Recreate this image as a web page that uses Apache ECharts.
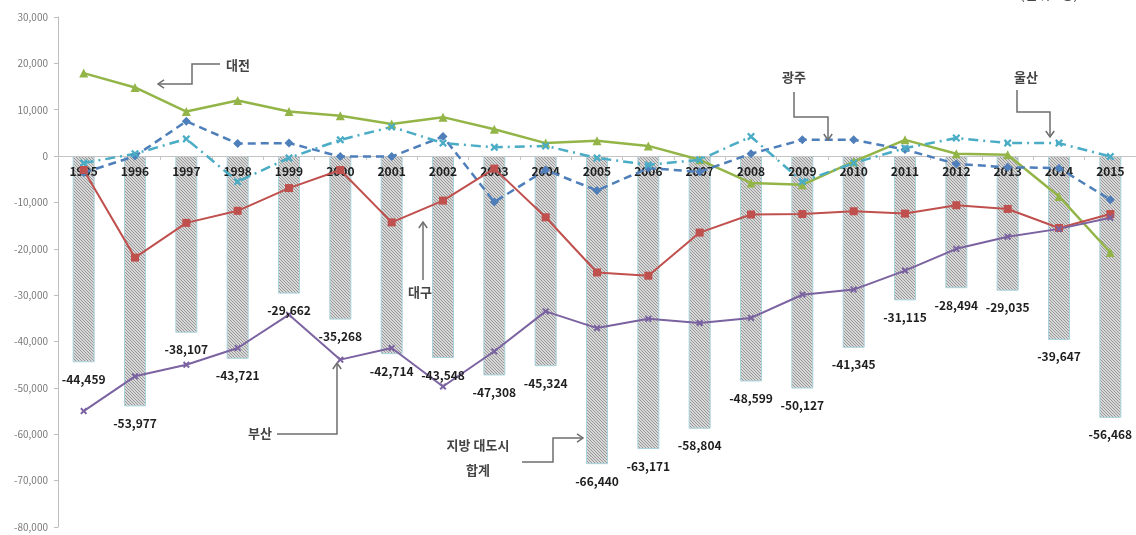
<!DOCTYPE html>
<html>
<head>
<meta charset="utf-8">
<script src="https://cdn.jsdelivr.net/npm/echarts@6/dist/echarts.min.js"></script>
<style>
  html, body { margin: 0; padding: 0; background: #fff; }
  #chart { width: 1136px; height: 535px; }
</style>
</head>
<body>
<div id="chart"></div>
<script>
// 연도별 지방 대도시 순이동 (단위: 명)
const years = ['1995','1996','1997','1998','1999','2000','2001','2002','2003','2004','2005',
               '2006','2007','2008','2009','2010','2011','2012','2013','2014','2015'];

// 지방 대도시 합계 (막대)
const metroTotal = [-44459, -53977, -38107, -43721, -29662, -35268, -42714, -43548, -47308, -45324,
                    -66440, -63171, -58804, -48599, -50127, -41345, -31115, -28494, -29035, -39647, -56468];

// 도시별 (선)
const daejeon = [17900, 14800, 9600, 12000, 9600, 8700, 6900, 8400, 5800, 2800, 3300,
                 2200, -800, -5800, -6200, -1200, 3500, 500, 300, -8700, -20800];
const gwangju = [-3600, 0, 7500, 2700, 2800, -100, -100, 4200, -9900, -3000, -7400,
                 -2600, -3400, 500, 3500, 3500, 1400, -1700, -2400, -2600, -9400];
const ulsan   = [-1500, 500, 3700, -5500, -400, 3500, 6300, 2800, 1900, 2200, -400,
                 -1900, -800, 4200, -5500, -1500, 1700, 3900, 2800, 2800, -100];
const daegu   = [-3000, -21900, -14400, -11800, -6900, -3000, -14300, -9600, -2700, -13200, -25100,
                 -25800, -16500, -12600, -12500, -11900, -12400, -10600, -11400, -15500, -12500];
const busan   = [-55000, -47500, -45000, -41400, -34200, -43900, -41400, -49700, -42100, -33500, -37100,
                 -35100, -36000, -34900, -29900, -28800, -24700, -20000, -17400, -15700, -13300];

const yTicks = { min: -80000, max: 30000, step: 10000 };

const FONT = '"Noto Sans CJK KR", "Noto Sans", sans-serif';
const fmt = v => Number(v).toLocaleString('en-US');

const W = 1136, H = 535;
const GRID = { left: 58, right: 0, top: 17, bottom: 8 };
// 연도 축을 0 위치에 두기 위한 거리
const zeroFromTop = (H - GRID.top - GRID.bottom) * yTicks.max / (yTicks.max - yTicks.min);

// 빗금 무늬 막대 채우기
function hatchPattern() {
  const c = document.createElement('canvas');
  c.width = 3; c.height = 3;
  const g = c.getContext('2d');
  g.fillStyle = '#d8d8d8';
  g.fillRect(0, 0, 3, 3);
  g.fillStyle = '#979797';
  for (let i = 0; i < 3; i++) g.fillRect(i, i, 1, 1);
  return c;
}

const crossPath = 'path://M2,0L5,3L8,0L10,2L7,5L10,8L8,10L5,7L2,10L0,8L3,5L0,2Z';

const chart = echarts.init(document.getElementById('chart'));

// 화살표 설명선
const annoColor = '#6e6e6e';
function polyline(points, arrowDir) {
  const els = [{
    type: 'polyline', silent: true, z: 20,
    shape: { points: points },
    style: { stroke: annoColor, lineWidth: 1.5, fill: null }
  }];
  if (arrowDir) {
    const [tx, ty] = points[points.length - 1];
    const s = 6;
    let head;
    if (arrowDir === 'left')  head = [[tx + s, ty - s * 0.7], [tx, ty], [tx + s, ty + s * 0.7]];
    if (arrowDir === 'right') head = [[tx - s, ty - s * 0.7], [tx, ty], [tx - s, ty + s * 0.7]];
    if (arrowDir === 'up')    head = [[tx - s * 0.7, ty + s], [tx, ty], [tx + s * 0.7, ty + s]];
    if (arrowDir === 'down')  head = [[tx - s * 0.7, ty - s], [tx, ty], [tx + s * 0.7, ty - s]];
    els.push({
      type: 'polyline', silent: true, z: 20,
      shape: { points: head },
      style: { stroke: annoColor, lineWidth: 1.5, fill: null }
    });
  }
  return els;
}
function note(text, x, y, align) {
  return {
    type: 'text', silent: true, z: 20, x: x, y: y,
    style: {
      text: text, fill: '#444', font: 'bold 13px ' + FONT,
      align: align || 'center', verticalAlign: 'middle', lineHeight: 25
    }
  };
}

const graphics = [].concat(
  note('대전', 238, 65),
  polyline([[220, 64], [192, 64], [192, 84], [158, 84]], 'left'),
  note('광주', 794, 77),
  polyline([[794, 92], [794, 117], [828, 117], [828, 140]], 'down'),
  note('울산', 1026, 77),
  polyline([[1017, 90], [1017, 112], [1050, 112], [1050, 137]], 'down'),
  note('대구', 420, 292),
  polyline([[423, 280], [423, 222]], 'up'),
  note('부산', 260, 433),
  polyline([[277, 434], [337, 434], [337, 363]], 'up'),
  note('지방 대도시\n합계', 478, 458),
  polyline([[522, 462], [553, 462], [553, 438], [583, 438]], 'right'),
  [{
    type: 'text', silent: true, z: 20, x: 1020, y: 1,
    style: { text: '(단위 : 명)', fill: '#444', font: '14px ' + FONT, align: 'left', verticalAlign: 'bottom' }
  }]
);

const lineBase = { type: 'line', z: 4, symbolSize: 8 };

chart.setOption({
  animation: false,
  backgroundColor: '#ffffff',
  textStyle: { fontFamily: FONT },
  grid: Object.assign({ containLabel: false, outerBoundsMode: 'none' }, GRID),
  xAxis: {
    type: 'category',
    data: years,
    position: 'top',
    offset: -zeroFromTop,
    z: 3,
    axisLine: { onZero: false, lineStyle: { color: '#c4c4c4', width: 1 } },
    axisTick: { show: true, inside: true, length: 4, lineStyle: { color: '#c4c4c4' } },
    axisLabel: { inside: true, fontWeight: 'bold', fontSize: 12, color: '#1e1e1e', margin: 9, fontFamily: FONT },
    splitLine: { show: false }
  },
  yAxis: {
    type: 'value',
    min: yTicks.min, max: yTicks.max, interval: yTicks.step,
    axisLine: { show: true, lineStyle: { color: '#bdbdbd' } },
    axisTick: { show: true, length: 4, lineStyle: { color: '#bdbdbd' } },
    axisLabel: { formatter: fmt, color: '#7a7a7a', fontSize: 10, margin: 10, fontFamily: FONT },
    splitLine: { show: false }
  },
  series: [
    {
      name: '지방 대도시 합계', type: 'bar', data: metroTotal, barWidth: 22, z: 2,
      itemStyle: {
        color: { image: hatchPattern(), repeat: 'repeat' },
        borderColor: '#a9d4dc', borderWidth: 1
      }
    },
    Object.assign({}, lineBase, {
      name: '대전', data: daejeon, symbol: 'triangle', symbolSize: 9,
      lineStyle: { color: '#93b548', width: 2.5 },
      itemStyle: { color: '#93b548' }
    }),
    Object.assign({}, lineBase, {
      name: '광주', data: gwangju, symbol: 'diamond', symbolSize: 9,
      lineStyle: { color: '#4f7fba', width: 2.5, type: [8, 5] },
      itemStyle: { color: '#4f7fba' }
    }),
    Object.assign({}, lineBase, {
      name: '울산', data: ulsan, symbol: crossPath, symbolSize: 8,
      lineStyle: { color: '#4aacc5', width: 2.5, type: [10, 5, 2, 5] },
      itemStyle: { color: '#4aacc5' }
    }),
    Object.assign({}, lineBase, {
      name: '대구', data: daegu, symbol: 'rect', symbolSize: 8,
      lineStyle: { color: '#c0504d', width: 2 },
      itemStyle: { color: '#c0504d' }
    }),
    Object.assign({}, lineBase, {
      name: '부산', data: busan, symbol: crossPath, symbolSize: 7,
      lineStyle: { color: '#7b62a0', width: 2 },
      itemStyle: { color: '#7b62a0' }
    }),
    {
      // 막대 값 표시 (선 위에 보이도록 별도 계층)
      name: '합계 값', type: 'bar', data: metroTotal, barWidth: 22, barGap: '-100%', z: 6,
      itemStyle: { color: 'rgba(0,0,0,0)', borderWidth: 0 },
      label: {
        show: true, position: 'bottom', distance: 11,
        formatter: p => fmt(p.value),
        fontWeight: 'bold', fontSize: 12, color: '#1e1e1e', fontFamily: FONT
      },
      silent: true
    }
  ],
  graphic: graphics
});
</script>
</body>
</html>
